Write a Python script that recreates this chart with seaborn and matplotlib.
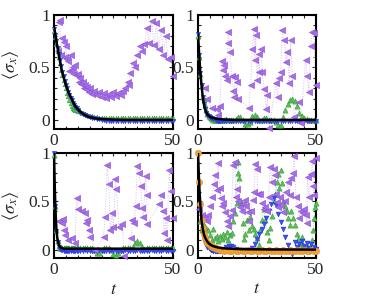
import numpy as np
import pandas as pd
import seaborn as sns
import matplotlib.pyplot as plt
from matplotlib.ticker import MultipleLocator

# common time grid for the dense series
T = np.concatenate([np.arange(0, 10, 0.5), np.arange(10, 51, 1)])

# ---- panel a (top left)
line_a_t = [0, 1, 2, 3, 4, 5, 6, 7, 8, 9, 10, 11, 12, 13, 14, 15, 17, 20, 25, 30, 50]
line_a_v = [0.89, 0.75, 0.62, 0.50, 0.41, 0.33, 0.27, 0.22, 0.17, 0.13, 0.10, 0.08, 0.06,
            0.045, 0.035, 0.025, 0.015, 0.008, 0.003, 0.0, 0.0]
blue_a = [0.87, 0.81, 0.75, 0.69, 0.63, 0.57, 0.51, 0.46, 0.42, 0.37, 0.33, 0.30, 0.27, 0.24,
          0.21, 0.19, 0.16, 0.14, 0.12, 0.11,
          0.09, 0.07, 0.055, 0.045, 0.035, 0.025, 0.02, 0.015, 0.01, 0.005, 0.0,
          -0.005, -0.01, -0.01, -0.012, -0.01, -0.01, -0.008, -0.01, -0.012, -0.01,
          -0.01, -0.01, -0.008, -0.01, -0.012, -0.01, -0.01, -0.01, -0.008, -0.01,
          -0.01, -0.012, -0.01, -0.01, -0.008, -0.01, -0.01, -0.012, -0.01, -0.01]
green_a = [0.85, 0.79, 0.72, 0.66, 0.60, 0.54, 0.48, 0.43, 0.38, 0.34, 0.30, 0.26, 0.23, 0.19,
           0.16, 0.13, 0.11, 0.10, 0.09, 0.09,
           0.08, 0.08, 0.07, 0.06, 0.05, 0.04, 0.035, 0.03, 0.025, 0.02, 0.02,
           0.02, 0.018, 0.02, 0.02, 0.018, 0.02, 0.02, 0.02, 0.018, 0.02,
           0.02, 0.018, 0.02, 0.02, 0.018, 0.02, 0.02, 0.02, 0.018, 0.02,
           0.02, 0.018, 0.02, 0.02, 0.018, 0.02, 0.02, 0.02, 0.018, 0.02]
purple_a_t = [1.5, 2, 2.5, 3, 3.5, 4, 4.5, 5, 5.5, 6, 6.5, 7, 7.5, 8, 8.5, 9, 9.5, 10, 10.5, 11,
              11.5, 12, 12.5, 13, 13.5, 14, 14.5, 15, 16, 17, 18, 19, 20, 21, 22, 23, 24, 25, 26,
              27, 28, 29, 30, 31, 31.5, 32, 33, 34, 35, 36, 37, 38, 39, 40, 41, 42, 43, 44, 45,
              46, 47, 48, 49, 50]
purple_a_v = [0.66, 0.93, 0.95, 0.62, 0.78, 0.74, 0.60, 0.70, 0.58, 0.56, 0.47, 0.62, 0.48, 0.50,
              0.44, 0.52, 0.43, 0.44, 0.36, 0.40, 0.34, 0.36, 0.30, 0.33, 0.29, 0.31, 0.27, 0.30,
              0.25, 0.28, 0.24, 0.27, 0.22, 0.26, 0.21, 0.25, 0.22, 0.27, 0.23, 0.26, 0.24, 0.28,
              0.30, 0.36, 0.33, 0.45, 0.54, 0.50, 0.62, 0.70, 0.66, 0.72, 0.88, 0.73, 0.94, 0.71,
              0.92, 0.68, 0.86, 0.62, 0.80, 0.58, 0.60, 0.42]

# ---- panel b (top right)
line_b_t = [0, 0.5, 1, 1.5, 2, 2.5, 3, 4, 5, 6, 8, 10, 15, 50]
line_b_v = [0.82, 0.62, 0.45, 0.33, 0.22, 0.15, 0.10, 0.05, 0.03, 0.02, 0.01, 0.005, 0.0, 0.0]
blue_b = [0.82, 0.62, 0.45, 0.33, 0.22, 0.15, 0.10, 0.07, 0.05, 0.04, 0.03, 0.02, 0.015, 0.01,
          0.005, 0.0, -0.005, -0.01, -0.01, -0.01,
          -0.01, -0.012, -0.01, -0.008, -0.01, -0.01, -0.012, -0.01, -0.01, -0.008,
          -0.01, -0.012, -0.01, -0.01, -0.008, -0.01, -0.01, -0.012, -0.01, -0.01,
          -0.008, -0.01, -0.012, -0.01, -0.01, -0.008, -0.01, -0.01, -0.012, -0.01,
          -0.01, -0.008, -0.01, -0.012, -0.01, -0.01, -0.008, -0.01, -0.01, -0.012, -0.01]
green_b = [0.80, 0.60, 0.44, 0.32, 0.22, 0.20, 0.14, 0.09, 0.06, 0.04, 0.03, 0.02, 0.01, 0.0,
           0.0, 0.0, 0.0, 0.0, 0.0, 0.0,
           0.0, 0.0, 0.005, 0.0, 0.0, 0.0, 0.01, 0.03, 0.03, 0.0, -0.04,
           -0.04, -0.02, 0.04, 0.05, 0.03, 0.0, 0.0, 0.02, 0.02, 0.0,
           0.0, 0.0, -0.02, -0.05, -0.05, 0.03, 0.09, 0.15, 0.19, 0.20,
           0.18, 0.13, 0.07, 0.04, 0.02, 0.01, 0.0, 0.0, 0.0, 0.0]
purple_b_t = [3.0, 3.7, 5.8, 7.9, 8.6, 9.3, 10.0, 10.7, 11.0, 11.4, 12.1, 12.5, 12.8, 13.5, 14.3,
              15.0, 15.3, 15.7, 16.4, 17.1, 21.5, 22.3, 23.0, 23.7, 24.0, 24.4, 25.1, 25.8, 26.0,
              26.5, 27.2, 28.0, 29.0, 29.4, 30.1, 33.0, 33.7, 34.4, 35.0, 35.8, 36.5, 37.3, 37.9,
              38.6, 39.3, 40.0, 40.7, 42.8, 43.5, 45.6, 46.3, 47.0, 47.7, 48.4, 49.1, 49.8]
purple_b_v = [0.30, 0.20, 0.11, 0.10, 0.05, 0.13, 0.56, 0.48, 0.52, 0.42, 0.38, 0.73, 0.84, 0.65,
              0.42, 0.28, 0.22, 0.41, 0.36, 0.20, 0.11, 0.33, 0.68, 0.87, 0.57, 0.81, 0.38, 0.63,
              0.46, 0.68, 0.46, 0.29, 0.10, 0.24, -0.08, 0.35, 0.22, 0.40, 0.46, 0.86, 0.76, 0.55,
              0.65, 0.35, 0.76, 0.42, 0.03, 0.17, -0.03, 0.57, 0.42, 0.27, 0.70, 0.84, 0.83, 0.33]

# ---- panel c (bottom left)
line_c_t = [0, 0.25, 0.5, 0.75, 1, 1.25, 1.5, 2, 2.5, 3, 4, 50]
line_c_v = [1.0, 0.72, 0.50, 0.34, 0.22, 0.15, 0.10, 0.05, 0.03, 0.02, 0.01, 0.01]
blue_c = [1.0, 0.45, 0.19, 0.08, 0.03, 0.01, 0.0, -0.005, -0.01, -0.01, -0.01, -0.01, -0.012,
          -0.01, -0.01, -0.008, -0.01, -0.01, -0.012, -0.01,
          -0.01, -0.012, -0.01, -0.008, -0.01, -0.01, -0.012, -0.01, -0.01, -0.008,
          -0.01, -0.012, -0.01, -0.01, -0.008, -0.01, -0.01, -0.012, -0.01, -0.01,
          -0.008, -0.01, -0.012, -0.01, -0.01, -0.008, -0.01, -0.01, -0.012, -0.01,
          -0.01, -0.008, -0.01, -0.012, -0.01, -0.01, -0.008, -0.01, -0.01, -0.012, -0.01]
green_c = [0.98, 0.45, 0.20, 0.09, 0.04, 0.02, 0.02, 0.02, 0.02, 0.02, 0.02, 0.02, 0.02, 0.02,
           0.02, 0.02, 0.02, 0.02, 0.02, 0.02,
           0.02, 0.02, 0.02, 0.02, 0.02, 0.02, 0.02, 0.0, -0.04, -0.03, 0.0,
           0.02, 0.02, 0.02, 0.0, -0.05, -0.06, -0.03, 0.0, 0.02, 0.02,
           0.02, 0.02, 0.03, 0.07, 0.09, 0.07, 0.03, 0.01, 0.02, 0.02,
           0.02, 0.02, 0.02, 0.02, 0.02, 0.02, 0.02, 0.02, 0.02, 0.02]
purple_c_t = [2.3, 3.5, 3.9, 4.2, 4.6, 6.0, 7.4, 8.8, 9.5, 10.2, 11.6, 13.0, 13.4, 13.8, 14.5,
              15.2, 17.3, 20.8, 21.5, 22.4, 23.0, 23.7, 24.4, 25.0, 25.8, 26.2, 27.3, 28.7, 29.4,
              32.5, 32.9, 33.6, 34.3, 35.0, 35.7, 36.4, 37.1, 37.5, 38.5, 38.9, 39.2, 44.3, 44.9,
              45.6, 46.3, 47.0, 47.4, 48.4, 49.1, 49.8]
purple_c_v = [0.30, 0.28, 0.32, 0.20, 0.15, 0.10, 0.12, 0.07, 0.54, 0.42, 0.40, 0.38, 0.28, 0.31,
              0.20, 0.13, 0.0, 0.13, 0.34, 0.88, 0.68, 0.20, 0.38, 0.23, 0.73, 0.63, 0.23, 0.27,
              -0.07, 0.12, 0.31, 0.28, 0.45, 0.87, 0.80, 0.66, 0.43, 0.34, 0.76, 0.57, 0.27, 0.47,
              0.57, 0.40, 0.17, 0.33, 0.10, 0.83, 0.61, 0.33]

# ---- panel d (bottom right)
line_d_t = [0, 0.5, 1, 1.5, 2, 2.5, 3, 4, 5, 6, 8, 10, 15, 20, 30, 50]
line_d_v = [1.0, 0.68, 0.46, 0.30, 0.22, 0.16, 0.125, 0.08, 0.055, 0.04, 0.025, 0.015, 0.008,
            0.004, 0.002, 0.0]
orange_d = [1.0, 0.70, 0.47, 0.31, 0.22, 0.16, 0.12, 0.09, 0.07, 0.055, 0.045, 0.035, 0.03,
            0.025, 0.02, 0.015, 0.01, 0.01, 0.005, 0.0,
            -0.005, -0.01, -0.005, -0.01, -0.01, -0.005, -0.01, -0.01, -0.005, -0.01,
            -0.01, -0.005, -0.01, -0.01, -0.005, -0.01, -0.01, -0.005, -0.01, -0.01,
            -0.005, -0.01, -0.01, -0.005, -0.01, -0.01, -0.005, -0.01, -0.01, -0.005,
            -0.01, -0.01, -0.005, -0.01, -0.01, -0.005, -0.01, -0.01, -0.005, -0.01, -0.01]
blue_d = [1.0, 0.68, 0.46, 0.30, 0.20, 0.13, 0.08, 0.05, 0.03, 0.02, 0.01, 0.0, -0.005, -0.01,
          -0.01, -0.01, -0.01, -0.01, -0.01, -0.01,
          0.0, 0.01, 0.03, 0.04, 0.04, 0.03, 0.01, 0.0, -0.01, 0.0, 0.0,
          0.0, 0.0, 0.02, 0.06, 0.11, 0.16, 0.21, 0.27, 0.33, 0.40,
          0.47, 0.54, 0.46, 0.37, 0.29, 0.21, 0.13, 0.05, 0.0, -0.05,
          0.08, 0.03, 0.06, 0.09, 0.04, 0.07, 0.02, 0.06, 0.03, 0.01]
green_d_t = [0.8, 1.5, 2.5, 3.5, 4.4, 5.0, 5.8, 6.5, 7.2, 7.9, 8.6, 9.3, 10.0, 10.7, 11.4, 12.1,
             12.8, 13.5, 14.2, 14.9, 15.7, 16.4, 16.8, 17.1, 17.5, 17.8, 18.5, 19.2, 19.4, 20.1,
             20.8, 21.5, 22.2, 22.9, 23.6, 24.3, 25.0, 25.7, 26.4, 27.2, 27.9, 28.6, 29.3, 30.0,
             30.7, 31.4, 32.1, 32.8, 33.5, 34.0, 34.4, 35.1, 35.4, 36.1, 36.8, 37.5, 38.2, 38.9,
             39.6, 40.3, 41.1, 41.8, 42.5, 43.2, 43.9, 44.6, 45.3, 46.0, 46.7, 47.4, 48.1, 48.8,
             49.2, 49.6, 49.9]
green_d_v = [0.30, 0.20, 0.26, 0.22, 0.20, 0.15, 0.10, 0.21, 0.12, 0.14, 0.09, 0.14, 0.11, 0.16,
             0.13, 0.18, 0.10, 0.15, 0.17, 0.30, 0.38, 0.48, 0.80, 0.91, 0.74, 0.51, 0.48, 0.28,
             0.11, 0.16, 0.31, 0.20, 0.34, 0.25, 0.21, 0.16, 0.12, 0.05, 0.20, 0.31, 0.42, 0.31,
             0.18, 0.10, 0.22, 0.35, 0.50, 0.58, 0.70, 0.79, 0.64, 0.83, 0.69, 0.50, 0.45, 0.40,
             0.33, 0.26, 0.40, 0.33, 0.26, 0.16, 0.11, 0.06, 0.13, 0.05, 0.02, 0.04, 0.01, 0.03,
             0.10, 0.20, 0.33, 0.44, 0.48]
purple_d_t = [0.5, 1.5, 3.0, 3.7, 4.4, 5.1, 5.8, 6.9, 7.2, 7.9, 8.6, 9.3, 9.6, 10.3, 10.7, 11.4,
              12.1, 12.8, 13.5, 14.2, 14.9, 15.6, 16.0, 16.4, 17.1, 17.8, 18.5, 19.2, 19.9, 20.5,
              21.0, 21.7, 22.4, 23.1, 23.8, 24.3, 25.0, 25.3, 26.4, 27.1, 27.8, 28.5, 29.2, 29.9,
              30.6, 31.3, 32.0, 32.7, 33.1, 33.4, 34.0, 34.7, 35.3, 36.0, 36.7, 37.4, 38.1, 38.8,
              39.4, 40.1, 40.8, 41.5, 42.2, 42.9, 43.6, 44.3, 45.0, 45.7, 46.0, 46.4, 47.1, 47.8,
              48.5, 48.8, 49.2, 49.9]
purple_d_v = [0.42, 0.36, 0.33, 0.30, 0.36, 0.45, 0.55, 0.68, 0.77, 0.62, 0.90, 0.64, 0.54, 0.45,
              0.48, 0.39, 0.30, 0.25, 0.35, 0.41, 0.88, 0.91, 0.55, 0.63, 0.50, 0.44, 0.40, 0.47,
              0.52, 0.45, 0.39, 0.30, 0.40, 0.52, 0.60, 0.89, 0.84, 0.58, 0.58, 0.48, 0.42, 0.44,
              0.40, 0.55, 0.86, 0.70, 0.84, 0.77, 0.58, 0.49, 0.44, 0.55, 0.46, 0.39, 0.50, 0.60,
              0.70, 0.57, 0.74, 0.80, 0.97, 0.55, 0.45, 0.33, 0.40, 0.38, 0.42, 0.36, 0.28, 0.75,
              0.55, 0.78, 0.92, 0.66, 0.57, 0.95]

PURPLE, PURPLE_E, PURPLE_L = "#a66fe8", "#8a4fd6", "#d6bdf4"
GREEN, GREEN_E, GREEN_L = "#5cbf5c", "#3a9a3a", "#b3e0b3"
BLUE, BLUE_E = "#3d4dff", "#2233e0"
ORANGE, ORANGE_E = "#f2a33a", "#e0902a"

sns.set_style("ticks")
plt.rcParams["font.family"] = ["Liberation Serif", "DejaVu Serif"]
plt.rcParams["mathtext.fontset"] = "stix"


def dots(ax, t, v, face, edge, marker, size, light=None):
    if light is not None:
        sns.lineplot(x=t, y=v, ax=ax, estimator=None, sort=False, color=light,
                     linestyle=":", linewidth=0.7, clip_on=False)
    sns.scatterplot(x=t, y=v, ax=ax, marker=marker, s=size, color=face,
                    edgecolor=edge, linewidth=0.4, clip_on=False, zorder=3)


def curve(ax, t, v):
    sns.lineplot(x=t, y=v, ax=ax, estimator=None, color="black", linewidth=1.8, zorder=5)


fig = plt.figure(figsize=(3.74, 3.0), dpi=100)
W = 374.0
H = 300.0
ax_a = fig.add_axes([54 / W, 1 - 129.3 / H, 119 / W, 114.3 / H])
ax_b = fig.add_axes([198 / W, 1 - 129.3 / H, 118 / W, 114.3 / H])
ax_c = fig.add_axes([54 / W, 1 - 258.3 / H, 119 / W, 105 / H])
ax_d = fig.add_axes([198 / W, 1 - 258.3 / H, 118 / W, 105 / H])

# a
dots(ax_a, purple_a_t, purple_a_v, PURPLE, PURPLE_E, "<", 20, PURPLE_L)
dots(ax_a, T, green_a, GREEN, GREEN_E, "^", 11)
dots(ax_a, T, blue_a, BLUE, BLUE_E, "v", 9)
curve(ax_a, line_a_t, line_a_v)

# b
dots(ax_b, T, green_b, GREEN, GREEN_E, "^", 14, GREEN_L)
dots(ax_b, T, blue_b, BLUE, BLUE_E, "v", 9)
dots(ax_b, purple_b_t, purple_b_v, PURPLE, PURPLE_E, "<", 20, PURPLE_L)
curve(ax_b, line_b_t, line_b_v)

# c
dots(ax_c, T, green_c, GREEN, GREEN_E, "^", 14, GREEN_L)
dots(ax_c, T, blue_c, BLUE, BLUE_E, "v", 9)
dots(ax_c, purple_c_t, purple_c_v, PURPLE, PURPLE_E, "<", 20, PURPLE_L)
curve(ax_c, line_c_t, line_c_v)

# d
dots(ax_d, green_d_t, green_d_v, GREEN, GREEN_E, "^", 14, GREEN_L)
dots(ax_d, T, blue_d, BLUE, BLUE_E, "v", 12)
dots(ax_d, purple_d_t, purple_d_v, PURPLE, PURPLE_E, "<", 20, PURPLE_L)
dots(ax_d, T, orange_d, ORANGE, ORANGE_E, "o", 20)
curve(ax_d, line_d_t, line_d_v)

for ax in [ax_a, ax_b, ax_c, ax_d]:
    ax.set_xlim(0, 50)
    ax.set_ylim(-0.09, 1.0)
    ax.set_xticks([0, 50])
    ax.set_xticklabels(["0", "50"])
    ax.set_yticks([0, 0.5, 1])
    ax.set_yticklabels(["0", "0.5", "1"])
    ax.xaxis.set_minor_locator(MultipleLocator(5))
    ax.yaxis.set_minor_locator(MultipleLocator(0.1))
    ax.tick_params(which="both", direction="in", top=True, right=True,
                   labelsize=12.5, pad=3, width=0.8)
    ax.tick_params(which="major", length=3)
    ax.tick_params(which="minor", length=2)
    for s in ax.spines.values():
        s.set_linewidth(1.5)
        s.set_color("black")
    ax.set_xlabel("")
    ax.set_ylabel("")

ax_a.set_ylabel(r"$\langle\sigma_x\rangle$", fontsize=13)
ax_a.yaxis.set_label_coords(-0.28, 0.56)
ax_c.set_ylabel(r"$\langle\sigma_x\rangle$", fontsize=13)
ax_c.yaxis.set_label_coords(-0.28, 0.5)
ax_c.set_xlabel(r"$t$", fontsize=13)
ax_c.xaxis.set_label_coords(0.5, -0.22)
ax_d.set_xlabel(r"$t$", fontsize=13)
ax_d.xaxis.set_label_coords(0.5, -0.21)

fig.savefig("out.png", dpi=100)
